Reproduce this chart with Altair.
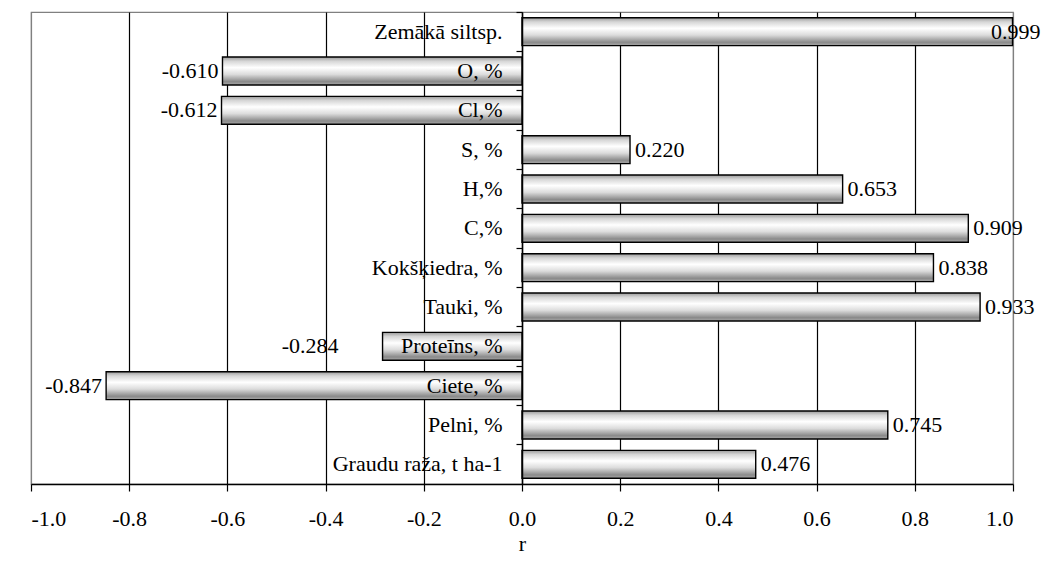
import altair as alt
import pandas as pd

categories = ["Zemākā siltsp.", "O, %", "Cl,%", "S, %", "H,%", "C,%",
              "Kokšķiedra, %", "Tauki, %", "Proteīns, %", "Ciete, %",
              "Pelni, %", "Graudu raža, t ha-1"]
values = [0.999, -0.610, -0.612, 0.220, 0.653, 0.909,
          0.838, 0.933, -0.284, -0.847, 0.745, 0.476]
x_ticks = [-1.0, -0.8, -0.6, -0.4, -0.2, 0.0, 0.2, 0.4, 0.6, 0.8, 1.0]

df = pd.DataFrame({"cat": categories, "r": values})
df["lbl"] = [f"{v:.3f}" for v in values]

FONT = "Times New Roman, Liberation Serif, serif"
FS = 22

grad = alt.Gradient(
    gradient="linear", x1=0, x2=0, y1=0, y2=1,
    stops=[
        alt.GradientStop(color="#9a9a9a", offset=0.0),
        alt.GradientStop(color="#d6d6d6", offset=0.15),
        alt.GradientStop(color="#ffffff", offset=0.38),
        alt.GradientStop(color="#dcdcdc", offset=0.62),
        alt.GradientStop(color="#8a8a8a", offset=0.88),
        alt.GradientStop(color="#a8a8a8", offset=1.0),
    ],
)

xscale = alt.Scale(domain=[-1, 1], nice=False, zero=False)
yscale = alt.Scale(domain=categories, paddingInner=0, paddingOuter=0)

xaxis = alt.Axis(
    values=x_ticks, format=".1f", title="r",
    labelExpr="replace(datum.label, '\u2212', '-')",
    grid=True,
    gridColor={"condition": {"test": "abs(datum.value) > 0.99", "value": "#808080"}, "value": "black"},
    gridWidth=1.2,
    domainColor="black", domainWidth=1.5,
    tickColor="black", tickSize=7, tickWidth=1.2,
    labelFont=FONT, labelFontSize=FS, labelColor="black", labelPadding=17,
    titleFont=FONT, titleFontSize=FS, titleFontWeight="normal", titleColor="black",
    titleBaseline="alphabetic", titleY=66,
    zindex=0,
)

yaxis = alt.Axis(
    title=None, offset=-491, bandPosition=0,
    domainColor="black", domainWidth=1.5,
    tickColor="black", tickSize=6, tickWidth=1.2,
    labelFont=FONT, labelFontSize=FS, labelColor="black", labelPadding=14,
    labelLimit=0, labelAlign="right", labelBaseline="middle",
    grid=False, zindex=2,
)

base = alt.Chart(df)

bars = base.mark_bar(color=grad, stroke="black", strokeWidth=1.4,
                     height={"band": 0.71}).encode(
    x=alt.X("r:Q", scale=xscale, axis=xaxis),
    y=alt.Y("cat:N", scale=yscale, sort=categories, axis=yaxis),
)

def lbl_layer(cond, align, dx):
    return base.transform_filter(cond).mark_text(
        align=align, baseline="middle", dx=dx, font=FONT, fontSize=FS, color="black"
    ).encode(
        x=alt.X("r:Q", scale=xscale),
        y=alt.Y("cat:N", scale=yscale, sort=categories),
        text="lbl:N",
    )

pos = lbl_layer("datum.r > 0 && datum.r < 0.99", "left", 5)
top = lbl_layer("datum.r >= 0.99", "right", 28)
neg = lbl_layer("datum.r < -0.3", "right", -4)
negs = lbl_layer("datum.r < 0 && datum.r >= -0.3", "right", -44)

chart = alt.layer(bars, pos, top, neg, negs).properties(
    width=982, height=472,
    padding={"left": 23, "top": 4, "right": 28, "bottom": 72},
    autosize=alt.AutoSizeParams(type="none"),
    background="white",
).configure_view(stroke="#808080", strokeWidth=1.2)

chart.save("out.html", embed_options={"renderer": "svg", "actions": False})
